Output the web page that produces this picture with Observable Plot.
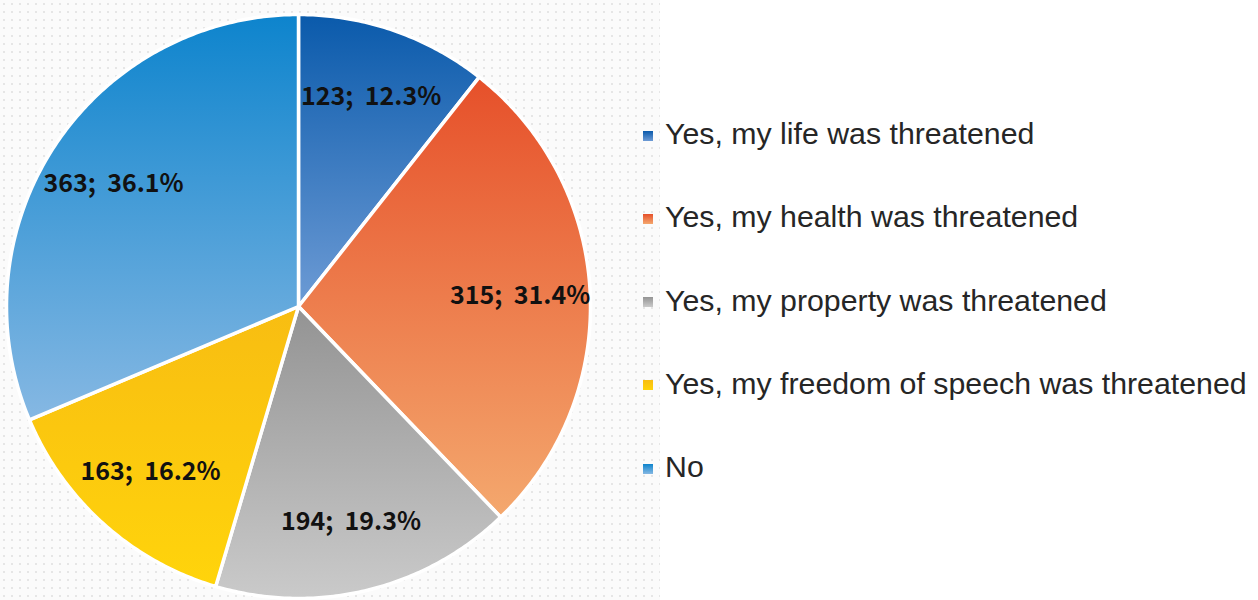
<!DOCTYPE html>
<html>
<head>
<meta charset="utf-8">
<script src="https://cdn.jsdelivr.net/npm/d3@7"></script>
<script src="https://cdn.jsdelivr.net/npm/@observablehq/plot@0.6"></script>
<style>
  html, body { margin: 0; padding: 0; background: #ffffff; }
  #wrap { position: relative; width: 1258px; height: 600px; overflow: hidden; }
  #bg { position: absolute; left: 0; top: 0; width: 660px; height: 600px;
        background-color: #fbfbfb;
        background-image: radial-gradient(circle, #e6e6e6 0.8px, transparent 1.2px);
        background-size: 8px 8px; }
  #chart { position: absolute; left: 0; top: 0; }
  #legend { position: absolute; left: 643px; top: 0; font-family: "Liberation Sans", Arial, sans-serif;
            font-size: 30.3px; color: #262626; }
  .row { position: absolute; left: 0; height: 40px; display: flex; align-items: center; white-space: nowrap; }
  .sw { width: 10px; height: 10px; margin-right: 12px; margin-top: 3px; }
</style>
</head>
<body>
<div id="wrap">
  <div id="bg"></div>
  <div id="chart"></div>
  <div id="legend"></div>
</div>
<script>
const categories = [
  "Yes, my life was threatened",
  "Yes, my health was threatened",
  "Yes, my property was threatened",
  "Yes, my freedom of speech was threatened",
  "No"
];
const counts = [123, 315, 194, 163, 363];
const percents = ["12.3%", "31.4%", "19.3%", "16.2%", "36.1%"];
const topColors = ["#0a5aab", "#e6502a", "#939393", "#f8bd12", "#0d84cd"];
const bottomColors = ["#6d9bd5", "#f4a86e", "#cacaca", "#ffd40b", "#86b8e3"];

const data = categories.map((c, i) => ({
  category: c, count: counts[i], label: `${counts[i]};\u00a0 ${percents[i]}`, i
}));

const arcs = d3.pie().sort(null).value(d => d.count)(data);

// slice polygons in unit space (y down, angle clockwise from top)
function slicePolygon(a) {
  const n = Math.max(2, Math.ceil((a.endAngle - a.startAngle) / 0.01));
  const ring = [[0, 0]];
  for (let k = 0; k <= n; ++k) {
    const t = a.startAngle + (a.endAngle - a.startAngle) * k / n;
    ring.push([Math.sin(t), -Math.cos(t)]);
  }
  ring.push([0, 0]);
  return {type: "Feature", properties: {i: a.data.i}, geometry: {type: "Polygon", coordinates: [ring]}};
}
const features = arcs.map(slicePolygon);

const labelR = 0.76;
const labels = arcs.map(a => {
  const m = (a.startAngle + a.endAngle) / 2;
  return {x: labelR * Math.sin(m), y: -labelR * Math.cos(m), text: a.data.label};
});

const plot = Plot.plot({
  width: 590,
  height: 600,
  marginLeft: 6,
  marginRight: 0,
  marginTop: 14,
  marginBottom: 2,
  projection: {type: "identity", domain: {type: "MultiPoint", coordinates: [[-1, -1], [1, 1]]}},
  marks: [
    ...features.map((f, i) => Plot.geo([f], {fill: `url(#grad${i})`, stroke: "white", strokeWidth: 3.5, strokeLinejoin: "round"})),
    Plot.text(labels, {x: "x", y: "y", text: "text", fontSize: 25, fontWeight: "bold",
      fontFamily: "'Noto Sans CJK KR', 'Noto Sans', sans-serif", fill: "#111"})
  ]
});

const svg = d3.select(plot);
svg.style("background", "transparent").style("overflow", "visible");
const defs = svg.insert("defs", ":first-child");
topColors.forEach((c, i) => {
  const g = defs.append("linearGradient").attr("id", `grad${i}`)
    .attr("x1", 0).attr("y1", 0).attr("x2", 0).attr("y2", 1);
  g.append("stop").attr("offset", "0%").attr("stop-color", c);
  g.append("stop").attr("offset", "100%").attr("stop-color", bottomColors[i]);
});
document.getElementById("chart").appendChild(plot);

const legend = d3.select("#legend");
categories.forEach((c, i) => {
  const row = legend.append("div").attr("class", "row").style("top", `${114 + i * 83.3}px`);
  row.append("div").attr("class", "sw")
    .style("background", `linear-gradient(${topColors[i]}, ${bottomColors[i]})`);
  row.append("span").text(c);
});
</script>
</body>
</html>
